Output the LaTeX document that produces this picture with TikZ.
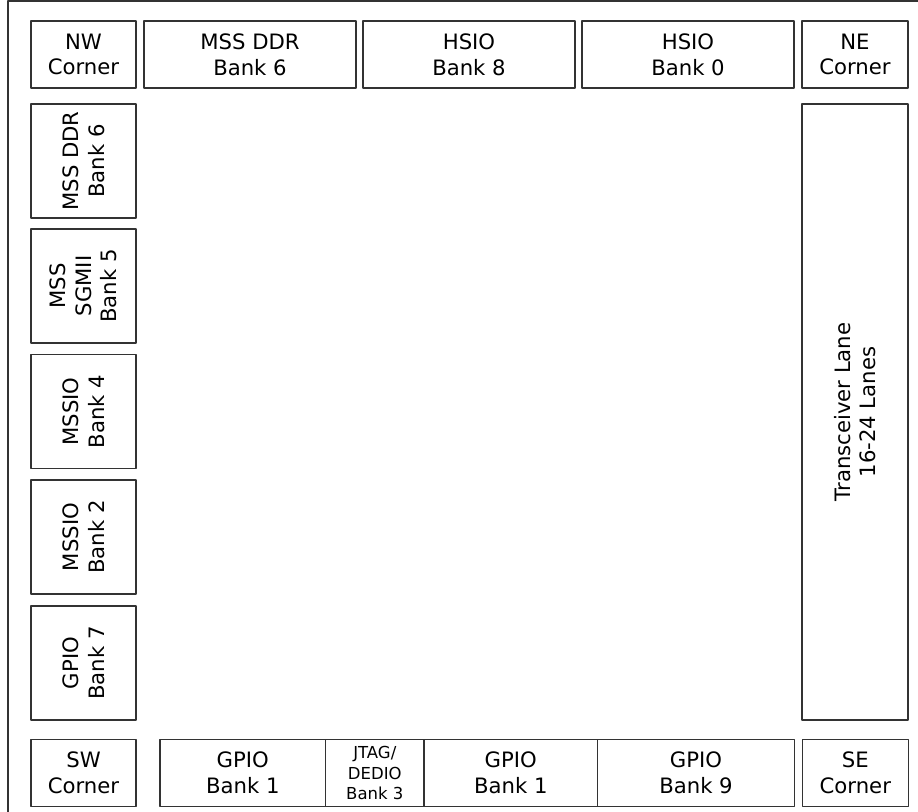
\documentclass[tikz,border=0pt]{standalone}
\usepackage{fontspec}
\setmainfont{DejaVu Sans}
\begin{document}
\begin{tikzpicture}[x=1pt,y=-1pt, line join=round,
	bank/.style={draw=black!80, line width=1.2pt, inner sep=0pt, align=center,
		font=\fontsize{21.2}{25.7}\selectfont},
	hbank/.style={bank, minimum height=67pt},
	vbank/.style={bank, rotate=90, minimum width=114pt, minimum height=105pt}]
	\useasboundingbox (0,0) rectangle (918,811);
	\clip (0,0) rectangle (918,811);
	% khung ngoai
	\draw[black!80, line width=1.2pt] (8,1) rectangle (930,830);
	% hang tren
	\node[hbank, minimum width=105pt] (nw) at (83.5,54.5) {NW\\Corner};
	\node[hbank, minimum width=212pt] (ddrtop) at (250,54.5) {MSS DDR\\Bank 6};
	\node[hbank, minimum width=212pt] (hsio8) at (469,54.5) {HSIO\\Bank 8};
	\node[hbank, minimum width=212pt] (hsio0) at (688,54.5) {HSIO\\Bank 0};
	\node[hbank, minimum width=106pt] (ne) at (855,54.5) {NE\\Corner};
	% cot trai
	\node[vbank] (ddrleft) at (83.5,161) {MSS DDR\\Bank 6};
	\node[vbank] (sgmii) at (83.5,286) {MSS\\SGMII\\Bank 5};
	\node[vbank] (mssio4) at (83.5,411.5) {MSSIO\\Bank 4};
	\node[vbank] (mssio2) at (83.5,537) {MSSIO\\Bank 2};
	\node[vbank] (gpio7) at (83.5,663) {GPIO\\Bank 7};
	% cot phai
	\node[vbank, minimum width=616pt, minimum height=106pt] (xcvr) at (855,412) {Transceiver Lane\\16-24 Lanes};
	% hang duoi
	\node[hbank, minimum width=105pt] (sw) at (83.5,773) {SW\\Corner};
	\node[hbank, minimum width=165.7pt] (gpio1a) at (242.8,773) {GPIO\\Bank 1};
	\node[hbank, minimum width=98.3pt, font=\fontsize{16.5}{20.7}\selectfont] (jtag) at (374.8,773) {JTAG/\\DEDIO\\Bank 3};
	\node[hbank, minimum width=173.7pt] (gpio1b) at (510.8,773) {GPIO\\Bank 1};
	\node[hbank, minimum width=196.6pt] (gpio9) at (696,773) {GPIO\\Bank 9};
	\node[hbank, minimum width=106pt] (se) at (855.3,773) {SE\\Corner};
\end{tikzpicture}
\end{document}
